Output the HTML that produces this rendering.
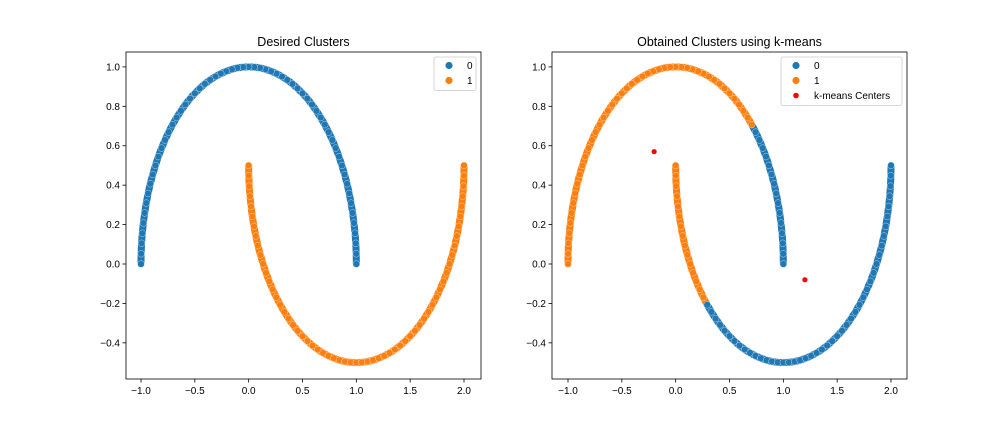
<!DOCTYPE html>
<html><head><meta charset="utf-8"><style>
html,body{margin:0;padding:0;background:#fff;}
svg{display:block;font-family:"Liberation Sans","DejaVu Sans",sans-serif;}
</style></head><body>
<svg id="fig" width="1008" height="432" viewBox="0 0 1008 432"></svg>
<script>
// Upper moon data (label 0)
const upperX=[1.000,0.999,0.995,0.988,0.978,0.966,0.951,0.934,0.914,0.891,0.866,0.839,0.809,0.777,0.743,0.707,0.669,0.629,0.588,0.545,0.500,0.454,0.407,0.358,0.309,0.259,0.208,0.156,0.105,0.052,0.000,-0.052,-0.105,-0.156,-0.208,-0.259,-0.309,-0.358,-0.407,-0.454,-0.500,-0.545,-0.588,-0.629,-0.669,-0.707,-0.743,-0.777,-0.809,-0.839,-0.866,-0.891,-0.914,-0.934,-0.951,-0.966,-0.978,-0.988,-0.995,-0.999,-1.000];
const upperY=[0.000,0.052,0.105,0.156,0.208,0.259,0.309,0.358,0.407,0.454,0.500,0.545,0.588,0.629,0.669,0.707,0.743,0.777,0.809,0.839,0.866,0.891,0.914,0.934,0.951,0.966,0.978,0.988,0.995,0.999,1.000,0.999,0.995,0.988,0.978,0.966,0.951,0.934,0.914,0.891,0.866,0.839,0.809,0.777,0.743,0.707,0.669,0.629,0.588,0.545,0.500,0.454,0.407,0.358,0.309,0.259,0.208,0.156,0.105,0.052,0.000];
// Lower moon data (label 1)
const lowerX=[0.000,0.001,0.005,0.012,0.022,0.034,0.049,0.066,0.086,0.109,0.134,0.161,0.191,0.223,0.257,0.293,0.331,0.371,0.412,0.455,0.500,0.546,0.593,0.642,0.691,0.741,0.792,0.844,0.895,0.948,1.000,1.052,1.105,1.156,1.208,1.259,1.309,1.358,1.407,1.454,1.500,1.545,1.588,1.629,1.669,1.707,1.743,1.777,1.809,1.839,1.866,1.891,1.914,1.934,1.951,1.966,1.978,1.988,1.995,1.999,2.000];
const lowerY=[0.500,0.448,0.395,0.344,0.292,0.241,0.191,0.142,0.093,0.046,0.000,-0.045,-0.088,-0.129,-0.169,-0.207,-0.243,-0.277,-0.309,-0.339,-0.366,-0.391,-0.414,-0.434,-0.451,-0.466,-0.478,-0.488,-0.495,-0.499,-0.500,-0.499,-0.495,-0.488,-0.478,-0.466,-0.451,-0.434,-0.414,-0.391,-0.366,-0.339,-0.309,-0.277,-0.243,-0.207,-0.169,-0.129,-0.088,-0.045,0.000,0.046,0.093,0.142,0.191,0.241,0.292,0.344,0.395,0.448,0.500];
// k-means centers
const centerX=[-0.2,1.2];
const centerY=[0.57,-0.08];
const centerLabel=[1,0];
const xTicks=[-1.0,-0.5,0.0,0.5,1.0,1.5,2.0];
const xTickLabels=["−1.0","−0.5","0.0","0.5","1.0","1.5","2.0"];
const yTicks=[-0.4,-0.2,0.0,0.2,0.4,0.6,0.8,1.0];
const yTickLabels=["−0.4","−0.2","0.0","0.2","0.4","0.6","0.8","1.0"];
const colors=["#1f77b4","#ff7f0e"];

const svg=document.getElementById('fig');
const NS='http://www.w3.org/2000/svg';
function mk(tag,attrs,parent){const e=document.createElementNS(NS,tag);for(const k in attrs)e.setAttribute(k,attrs[k]);(parent||svg).appendChild(e);return e;}

function makeAxes(left,right,top,bottom,x0px,x2px,name){
  const sx=v=>x0px+(v+1)*(x2px-x0px)/3;
  const sy=v=>264+(0-v)*197.1;
  const g=mk('g',{});
  
  
  const tg=mk('g',{},g);
  
  
  xTicks.forEach((t,i)=>{const x=sx(t);
    mk('line',{x1:x,x2:x,y1:bottom,y2:bottom+3.5,stroke:'#000','stroke-width':0.8},tg);
    const tx=mk('text',{x:x,y:bottom+15,'font-size':10,'text-anchor':'middle',fill:'#000'},tg);
    
    
    tx.textContent=xTickLabels[i];});
  const yg=mk('g',{},g);
  
  
  yTicks.forEach((t,i)=>{const y=sy(t);
    mk('line',{x1:left-3.5,x2:left,y1:y,y2:y,stroke:'#000','stroke-width':0.8},yg);
    const tx=mk('text',{x:left-6,y:y+3.5,'font-size':10,'text-anchor':'end',fill:'#000'},yg);
    
    
    tx.textContent=yTickLabels[i];});
  return {g,sx,sy};
}
function band(g,A,xs,ys,labels){
  for(let i=0;i<xs.length-1;i++){
    const e=mk('line',{x1:A.sx(xs[i]),y1:A.sy(ys[i]),x2:A.sx(xs[i+1]),y2:A.sy(ys[i+1]),stroke:colors[labels[i]],'stroke-width':7,'stroke-linecap':'round'},g);
    
    
  }
}
function dot(g,x,y,c,name){const e=mk('circle',{cx:x,cy:y,r:3.4,fill:c,stroke:'#fff','stroke-width':0.5,'stroke-opacity':0.7},g);
  
  }
function frame(g,l,r,t,b){mk('rect',{x:l,y:t,width:r-l,height:b-t,fill:'none',stroke:'#000','stroke-width':0.8},g);}
function title(g,x,txt){const e=mk('text',{x:x,y:46,'font-size':12.5,'text-anchor':'middle',fill:'#000'},g);
  
  
  e.textContent=txt;}
function legend(g,x,y,w,entries){
  const lg=mk('g',{},g);
  
  
  mk('rect',{x:x,y:y,width:w,height:entries.length*15+3.5,rx:2,fill:'#fff','fill-opacity':0.8,stroke:'#ccc','stroke-width':0.8},lg);
  entries.forEach((en,i)=>{const cy=y+8.5+i*15;
    const e=mk('g',{},lg);
    
    
    mk('circle',{cx:x+15,cy:cy,r:en[2]||3.6,fill:en[1]},e);
    const t=mk('text',{x:x+33,y:cy+3.5,'font-size':10,fill:'#000'},e);t.textContent=en[0];});
}

// Left chart
const L=makeAxes(126,481,52,379,141,464,'desired-clusters-chart');
title(L.g,303.5,'Desired Clusters');
const lp=mk('g',{},L.g);


band(lp,L,upperX,upperY,upperX.map(()=>0));
band(lp,L,lowerX,lowerY,lowerX.map(()=>1));
upperX.forEach((v,i)=>dot(lp,L.sx(v),L.sy(upperY[i]),colors[0],'point-cluster-0'));
lowerX.forEach((v,i)=>dot(lp,L.sx(v),L.sy(lowerY[i]),colors[1],'point-cluster-1'));
frame(L.g,126,481,52,379);
legend(L.g,434,57,42,[["0",colors[0]],["1",colors[1]]]);

// Right chart
const R=makeAxes(552,907,52,379,568,891,'kmeans-clusters-chart');
title(R.g,729.5,'Obtained Clusters using k-means');
function assign(x,y){let best=0,bd=1e9;centerX.forEach((cx,k)=>{const d=(x-cx)**2+(y-centerY[k])**2;if(d<bd){bd=d;best=k;}});return centerLabel[best];}
const rp=mk('g',{},R.g);


const upperLab=upperX.map((v,i)=>assign(v,upperY[i]));
const lowerLab=lowerX.map((v,i)=>assign(v,lowerY[i]));
band(rp,R,upperX,upperY,upperLab);
band(rp,R,lowerX,lowerY,lowerLab);
upperX.forEach((v,i)=>dot(rp,R.sx(v),R.sy(upperY[i]),colors[upperLab[i]],'point-cluster-'+upperLab[i]));
lowerX.forEach((v,i)=>dot(rp,R.sx(v),R.sy(lowerY[i]),colors[lowerLab[i]],'point-cluster-'+lowerLab[i]));
centerX.forEach((v,i)=>{const e=mk('circle',{cx:R.sx(v),cy:R.sy(centerY[i]),r:2.8,fill:'#ff0000',stroke:'#fff','stroke-width':0.5},rp);
  
  });
frame(R.g,552,907,52,379);
legend(R.g,781,57,121,[["0",colors[0]],["1",colors[1]],["k-means Centers","#ff0000",2.8]]);
</script>
</body></html>
